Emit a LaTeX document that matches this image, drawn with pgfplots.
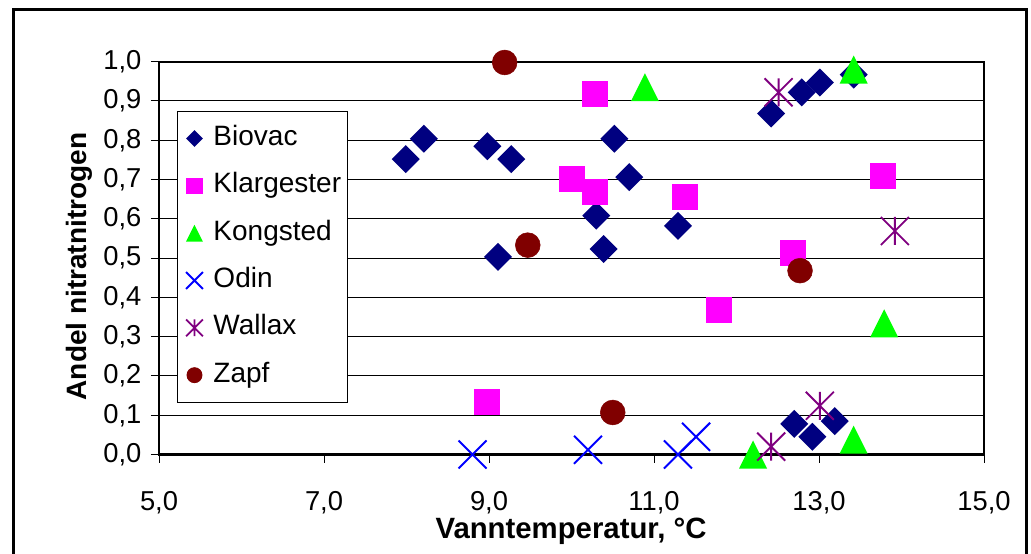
\documentclass[border=0pt]{standalone}
\usepackage{fontspec}
\setmainfont{Liberation Sans}
\usepackage{pgfplots}
\pgfplotsset{compat=1.18}

\definecolor{biovac}{RGB}{0,0,128}
\definecolor{klar}{RGB}{255,0,255}
\definecolor{kong}{RGB}{0,255,0}
\definecolor{odin}{RGB}{0,0,255}
\definecolor{wallax}{RGB}{128,0,128}
\definecolor{zapf}{RGB}{128,0,0}

\pgfdeclareplotmark{xldiamond}{%
  \pgfpathmoveto{\pgfqpoint{0pt}{\pgfplotmarksize}}%
  \pgfpathlineto{\pgfqpoint{\pgfplotmarksize}{0pt}}%
  \pgfpathlineto{\pgfqpoint{0pt}{-\pgfplotmarksize}}%
  \pgfpathlineto{\pgfqpoint{-\pgfplotmarksize}{0pt}}%
  \pgfpathclose\pgfusepathqfill}
\pgfdeclareplotmark{xltri}{%
  \pgfpathmoveto{\pgfqpoint{0pt}{\pgfplotmarksize}}%
  \pgfpathlineto{\pgfqpoint{\pgfplotmarksize}{-\pgfplotmarksize}}%
  \pgfpathlineto{\pgfqpoint{-\pgfplotmarksize}{-\pgfplotmarksize}}%
  \pgfpathclose\pgfusepathqfill}
\pgfdeclareplotmark{xlx}{%
  \pgfpathmoveto{\pgfqpoint{-\pgfplotmarksize}{-\pgfplotmarksize}}%
  \pgfpathlineto{\pgfqpoint{\pgfplotmarksize}{\pgfplotmarksize}}%
  \pgfpathmoveto{\pgfqpoint{-\pgfplotmarksize}{\pgfplotmarksize}}%
  \pgfpathlineto{\pgfqpoint{\pgfplotmarksize}{-\pgfplotmarksize}}%
  \pgfusepathqstroke}
\pgfdeclareplotmark{xlstar}{%
  \pgfpathmoveto{\pgfqpoint{-\pgfplotmarksize}{-\pgfplotmarksize}}%
  \pgfpathlineto{\pgfqpoint{\pgfplotmarksize}{\pgfplotmarksize}}%
  \pgfpathmoveto{\pgfqpoint{-\pgfplotmarksize}{\pgfplotmarksize}}%
  \pgfpathlineto{\pgfqpoint{\pgfplotmarksize}{-\pgfplotmarksize}}%
  \pgfpathmoveto{\pgfqpoint{0pt}{-\pgfplotmarksize}}%
  \pgfpathlineto{\pgfqpoint{0pt}{\pgfplotmarksize}}%
  \pgfusepathqstroke}

\begin{document}
\begin{tikzpicture}
\useasboundingbox (0pt,0pt) rectangle (773.25pt,414.75pt);
\fill[white] (0pt,0pt) rectangle (773.25pt,414.75pt);
\draw[line width=2.25pt] (9.75pt,-8pt) -- (9.75pt,407.25pt) -- (769.5pt,407.25pt) -- (769.5pt,-8pt);
\begin{axis}[
  at={(119.25pt,73.875pt)}, anchor=south west,
  scale only axis, width=618.75pt, height=294.6pt,
  xmin=5, xmax=15, ymin=0, ymax=1,
  clip=false,
  xtick={5,7,9,11,13,15},
  ytick={0,0.1,0.2,0.3,0.4,0.5,0.6,0.7,0.8,0.9,1},
  minor tick num=0,
  xtick pos=left, ytick pos=left,
  tick align=outside, major tick length=6pt,
  tick style={black, line width=0.75pt},
  axis line style={line width=1.6pt},
  ymajorgrids, major grid style={black, line width=0.75pt},
  /pgf/number format/.cd, fixed, fixed zerofill, precision=1, use comma, assume math mode=true,
  /pgfplots/.cd,
  ticklabel style={font=\fontsize{20.5}{24}\selectfont},
  yticklabel style={anchor=east, inner sep=0pt, xshift=-7pt},
  xticklabel style={anchor=north, inner sep=0pt, yshift=-21.5pt},
  xlabel={Vanntemperatur, °C},
  ylabel={Andel nitratnitrogen},
  every axis x label/.style={at={(axis description cs:0.4994,-0.195)}, anchor=center, font=\bfseries\fontsize{22}{26}\selectfont},
  every axis y label/.style={at={(axis description cs:-0.0962,0.4786)}, rotate=90, anchor=center, font=\bfseries\fontsize{21}{25}\selectfont},
  legend image code/.code={\draw[#1, /tikz/every mark/.append style={scale=0.6}] plot coordinates {(0pt,0pt)}; \path (-7pt,0pt) (7pt,0pt);},
  legend cell align=left,
  legend style={at={(axis description cs:0.0218,0.8745)}, anchor=north west,
    draw=black, line width=0.75pt, fill=white,
    font=\fontsize{21}{25}\selectfont,
    inner xsep=5pt, inner ysep=11pt,
    /tikz/column sep=6.5pt, /tikz/row sep=17pt,
    nodes={inner sep=0pt, text height=14.5pt, text depth=4pt}},
]
\addplot[only marks, mark=xldiamond, mark size=10.5pt, color=biovac] coordinates {
 (8.21,0.804) (7.99,0.752) (8.98,0.785) (9.27,0.752) (10.52,0.804) (10.70,0.706)
 (10.30,0.608) (10.39,0.523) (11.29,0.582) (9.11,0.503) (12.42,0.868) (12.79,0.922)
 (13.01,0.947) (13.42,0.967) (12.70,0.078) (12.92,0.045) (13.19,0.085)};
\addlegendentry{Biovac}
\addplot[only marks, mark=square*, mark size=9.4pt, color=klar] coordinates {
 (10.28,0.918) (10.00,0.703) (10.28,0.670) (11.37,0.657) (13.77,0.709)
 (12.68,0.513) (8.97,0.134) (11.78,0.369)};
\addlegendentry{Klargester}
\addplot[only marks, mark=xltri, mark size=10.5pt, color=kong] coordinates {
 (10.89,0.935) (13.42,0.980) (13.79,0.334) (12.20,0.000) (13.42,0.038)};
\addlegendentry{Kongsted}
\addplot[only marks, mark=xlx, mark size=10.5pt, color=odin, line width=1.5pt] coordinates {
 (8.80,0.000) (10.20,0.012) (11.29,0.000) (11.51,0.045)};
\addlegendentry{Odin}
\addplot[only marks, mark=xlstar, mark size=10.5pt, color=wallax, line width=1.4pt] coordinates {
 (12.51,0.922) (13.92,0.569) (12.42,0.020) (13.01,0.124)};
\addlegendentry{Wallax}
\addplot[only marks, mark=*, mark size=9.3pt, color=zapf] coordinates {
 (9.19,0.998) (9.47,0.533) (12.77,0.468) (10.50,0.107)};
\addlegendentry{Zapf}
\end{axis}
\end{tikzpicture}
\end{document}
